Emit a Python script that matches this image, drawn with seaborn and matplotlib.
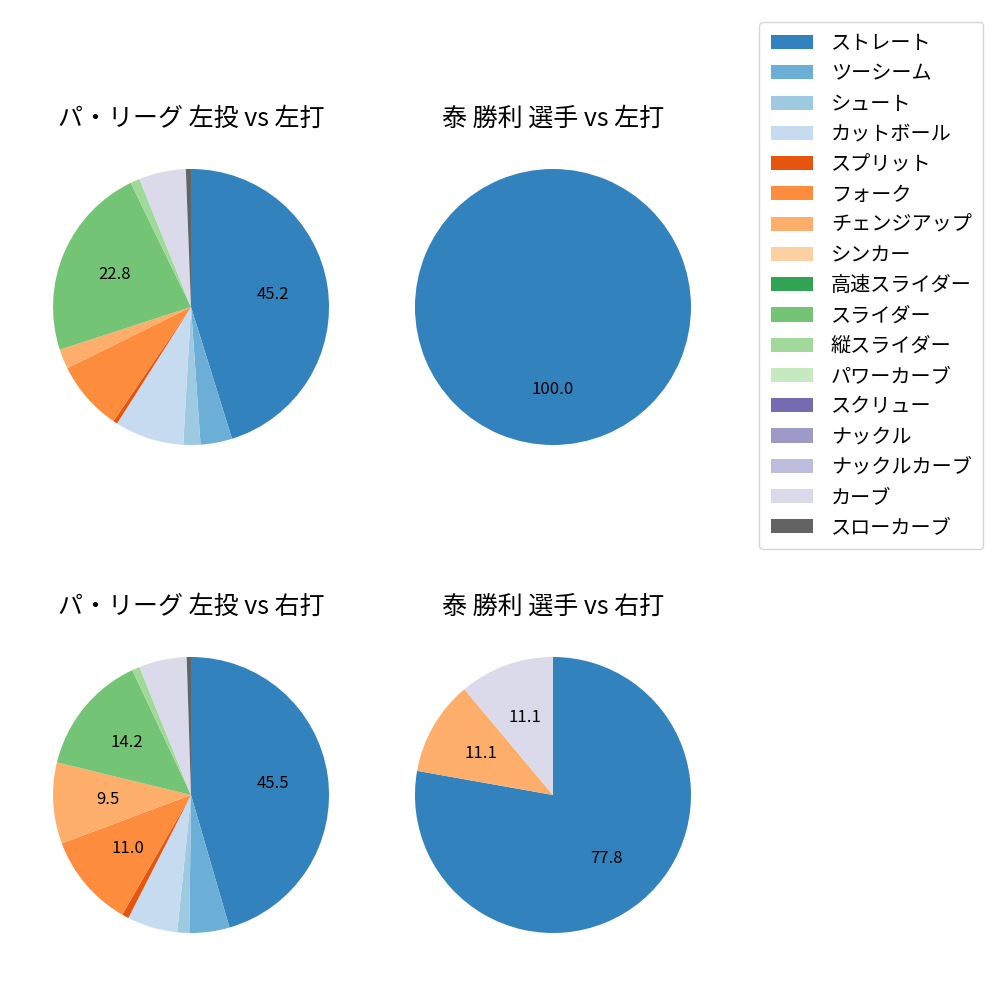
import numpy as np
import matplotlib
matplotlib.use('Agg')
import matplotlib.pyplot as plt
from matplotlib.patches import Patch
import seaborn as sns

pitch_types = ['ストレート', 'ツーシーム', 'シュート', 'カットボール', 'スプリット', 'フォーク',
               'チェンジアップ', 'シンカー', '高速スライダー', 'スライダー', '縦スライダー',
               'パワーカーブ', 'スクリュー', 'ナックル', 'ナックルカーブ', 'カーブ', 'スローカーブ']

# percentages per pitch type (same order as pitch_types)
league_vs_left = [45.2, 3.7, 2.0, 8.1, 0.5, 8.2, 2.3, 0, 0, 22.8, 1.1, 0, 0, 0, 0, 5.5, 0.6]
player_vs_left = [100.0, 0, 0, 0, 0, 0, 0, 0, 0, 0, 0, 0, 0, 0, 0, 0, 0]
league_vs_right = [45.5, 4.7, 1.4, 5.9, 0.8, 11.0, 9.5, 0, 0, 14.2, 0.9, 0, 0, 0, 0, 5.6, 0.5]
player_vs_right = [77.8, 0, 0, 0, 0, 0, 11.1, 0, 0, 0, 0, 0, 0, 0, 0, 11.1, 0]

titles = ['パ・リーグ 左投 vs 左打', '泰 勝利 選手 vs 左打',
          'パ・リーグ 左投 vs 右打', '泰 勝利 選手 vs 右打']

plt.rcParams['font.family'] = ['Noto Sans CJK JP', 'DejaVu Sans']

colors = sns.color_palette('tab20c', 20)
colors = colors[:17]


def autopct(p):
    return f'{p:.1f}' if p >= 9 else ''


fig, axes = plt.subplots(2, 2, figsize=(10, 10), dpi=100)
fig.subplots_adjust(left=0.0185, right=0.7255, bottom=0.0325, top=0.8655,
                    wspace=0.049, hspace=0.4145)

datasets = [league_vs_left, player_vs_left, league_vs_right, player_vs_right]
for ax, vals, title in zip(axes.flat, datasets, titles):
    ax.pie(vals, colors=colors, startangle=90, counterclock=False,
           autopct=autopct, textprops={'fontsize': 12},
           wedgeprops={'linewidth': 0})
    ax.set_title(title, fontsize=18)

handles = [Patch(facecolor=c, label=l) for c, l in zip(colors, pitch_types)]
fig.legend(handles=handles, loc='upper right', bbox_to_anchor=(0.993, 0.988),
           fontsize=14.5, handlelength=2.1, handletextpad=0.9,
           labelspacing=0.46, borderpad=0.55)

fig.savefig('out.png', dpi=100)
